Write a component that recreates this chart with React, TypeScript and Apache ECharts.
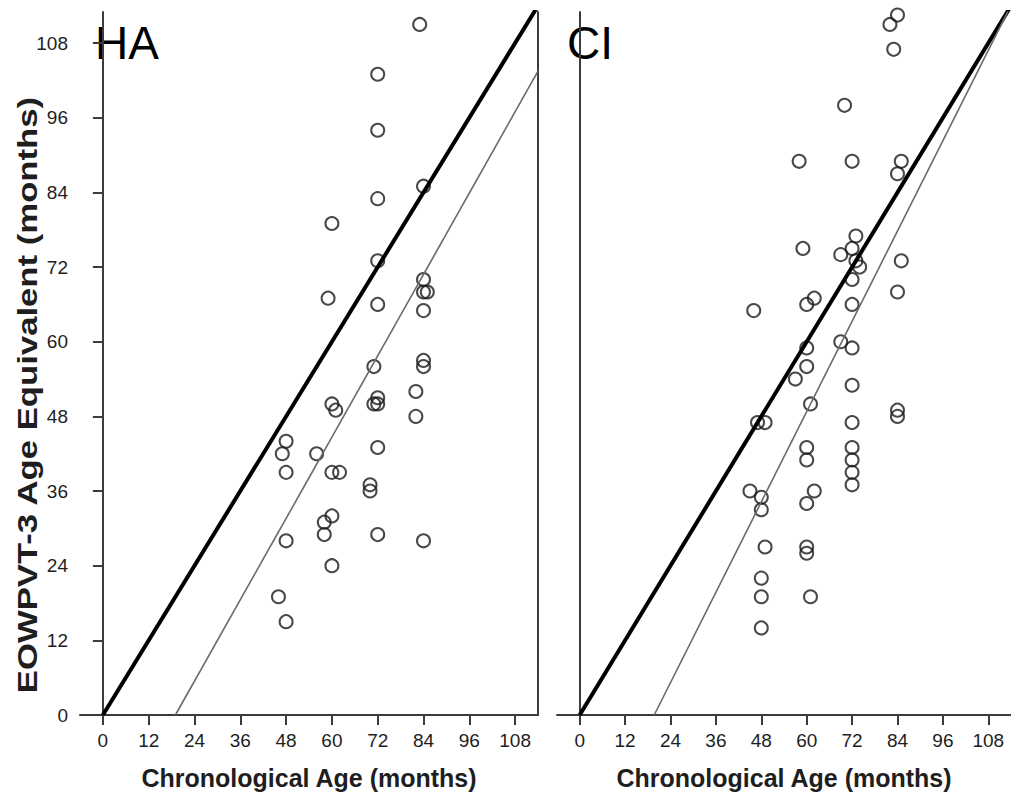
import React, { useEffect, useRef } from "react";
import * as echarts from "echarts";

const xTicks = [0, 12, 24, 36, 48, 60, 72, 84, 96, 108];
const yTicks = [0, 12, 24, 36, 48, 60, 72, 84, 96, 108];
const panelLabels = ["HA", "CI"];
const xTitle = "Chronological Age (months)";
const yTitle = "EOWPVT-3 Age Equivalent (months)";

// [chronological age, EOWPVT-3 age equivalent]
const haPoints = [
  [83, 111], [72, 103], [72, 94], [72, 83], [60, 79], [84, 85], [72, 73],
  [84, 70], [84, 68], [85, 68], [84, 65], [59, 67], [72, 66], [71, 56],
  [84, 57], [84, 56], [82, 52], [82, 48], [60, 50], [61, 49], [72, 51],
  [71, 50], [72, 50], [72, 43], [48, 44], [47, 42], [48, 39], [56, 42],
  [60, 39], [62, 39], [70, 37], [70, 36], [60, 32], [58, 31], [58, 29],
  [48, 28], [72, 29], [84, 28], [60, 24], [46, 19], [48, 15],
];
const ciPoints = [
  [84, 112.5], [82, 111], [83, 107], [70, 98], [58, 89], [72, 89], [85, 89],
  [84, 87], [73, 77], [72, 75], [69, 74], [59, 75], [85, 73], [73, 73],
  [74, 72], [72, 70], [84, 68], [46, 65], [60, 66], [62, 67], [72, 66],
  [60, 59], [69, 60], [72, 59], [60, 56], [57, 54], [72, 53], [61, 50],
  [47, 47], [49, 47], [72, 47], [84, 49], [84, 48], [60, 43], [60, 41],
  [72, 43], [72, 41], [72, 39], [72, 37], [45, 36], [48, 35], [62, 36],
  [48, 33], [60, 34], [49, 27], [60, 27], [60, 26], [48, 22], [48, 19],
  [61, 19], [48, 14],
];
const identityLine = [[0, 0], [120, 120]];
const haThinLine = [[19, 0], [114, 103.5]];
const ciThinLine = [[19.7, 0], [114, 114.1]];

export default function App() {
  const ref = useRef<HTMLDivElement>(null);
  useEffect(() => {
    const chart = echarts.init(ref.current!, null, { renderer: "svg" });
    const font = "'Liberation Sans', Arial, sans-serif";
    const axisColor = "#3c3c3c";
    const textColor = "#1e1e1e";

    const makeX = (gi: number) => ({
      type: "value",
      gridIndex: gi,
      min: -6,
      max: 114,
      axisLine: { show: true, onZero: false, lineStyle: { color: axisColor, width: 2 } },
      axisTick: { show: true, customValues: xTicks, length: 10, lineStyle: { color: axisColor, width: 2 } },
      axisLabel: { customValues: xTicks, fontSize: 19, color: textColor, margin: 16, fontFamily: font },
      splitLine: { show: false },
      name: xTitle,
      nameLocation: "middle",
      nameGap: 50,
      nameTextStyle: { fontSize: 25, fontWeight: "bold", color: textColor, fontFamily: font },
    });

    const scatterStyle = {
      color: "rgba(0,0,0,0)",
      borderColor: "#1a1a1a",
      borderWidth: 2,
    };

    chart.setOption({
      animation: false,
      backgroundColor: "#ffffff",
      grid: [
        { left: 80, top: 12, width: 458, height: 703 },
        { left: 557, top: 12, width: 458, height: 703 },
      ],
      xAxis: [makeX(0), makeX(1)],
      yAxis: [
        {
          type: "value",
          gridIndex: 0,
          min: 0,
          max: 113,
          axisLine: { show: true, lineStyle: { color: axisColor, width: 2 } },
          axisTick: { show: true, customValues: yTicks, length: 10, lineStyle: { color: axisColor, width: 2 } },
          axisLabel: { customValues: yTicks, fontSize: 19, color: textColor, margin: 12, fontFamily: font },
          splitLine: { show: false },
        },
        {
          type: "value",
          gridIndex: 1,
          min: 0,
          max: 113,
          axisLine: { show: true, lineStyle: { color: axisColor, width: 2 } },
          axisTick: { show: false },
          axisLabel: { show: false },
          splitLine: { show: false },
        },
        {
          type: "value",
          gridIndex: 0,
          position: "right",
          min: 0,
          max: 113,
          axisLine: { show: true, lineStyle: { color: axisColor, width: 2 } },
          axisTick: { show: false },
          axisLabel: { show: false },
          splitLine: { show: false },
        },
      ],
      series: [
        {
          type: "line", xAxisIndex: 0, yAxisIndex: 0, data: identityLine,
          symbol: "none", lineStyle: { color: "#000", width: 4 }, clip: true, silent: true,
        },
        {
          type: "line", xAxisIndex: 0, yAxisIndex: 0, data: haThinLine,
          symbol: "none", lineStyle: { color: "#6a6a6a", width: 1.6 }, clip: true, silent: true,
        },
        {
          type: "scatter", xAxisIndex: 0, yAxisIndex: 0, data: haPoints,
          symbol: "circle", symbolSize: 13, itemStyle: scatterStyle,
        },
        {
          type: "line", xAxisIndex: 1, yAxisIndex: 1, data: identityLine,
          symbol: "none", lineStyle: { color: "#000", width: 4 }, clip: true, silent: true,
        },
        {
          type: "line", xAxisIndex: 1, yAxisIndex: 1, data: ciThinLine,
          symbol: "none", lineStyle: { color: "#6a6a6a", width: 1.6 }, clip: true, silent: true,
        },
        {
          type: "scatter", xAxisIndex: 1, yAxisIndex: 1, data: ciPoints,
          symbol: "circle", symbolSize: 13, itemStyle: scatterStyle,
        },
      ],
      graphic: [
        {
          type: "text", left: 95, top: 20,
          style: { text: panelLabels[0], fontSize: 46, fill: "#000", fontFamily: font },
        },
        {
          type: "text", left: 567, top: 20,
          style: { text: panelLabels[1], fontSize: 46, fill: "#000", fontFamily: font },
        },
        {
          type: "text",
          x: 27,
          y: 395,
          rotation: Math.PI / 2,
          scaleX: 1.24,
          style: {
            text: yTitle, fontSize: 28, fontWeight: "bold", fill: textColor, fontFamily: font,
            align: "center", verticalAlign: "middle",
          },
        },
      ],
    });
    return () => chart.dispose();
  }, []);
  return (
    <div
      ref={ref}
      style={{ position: "absolute", left: 0, top: 0, width: 1011, height: 800, background: "#fff" }}
    />
  );
}
